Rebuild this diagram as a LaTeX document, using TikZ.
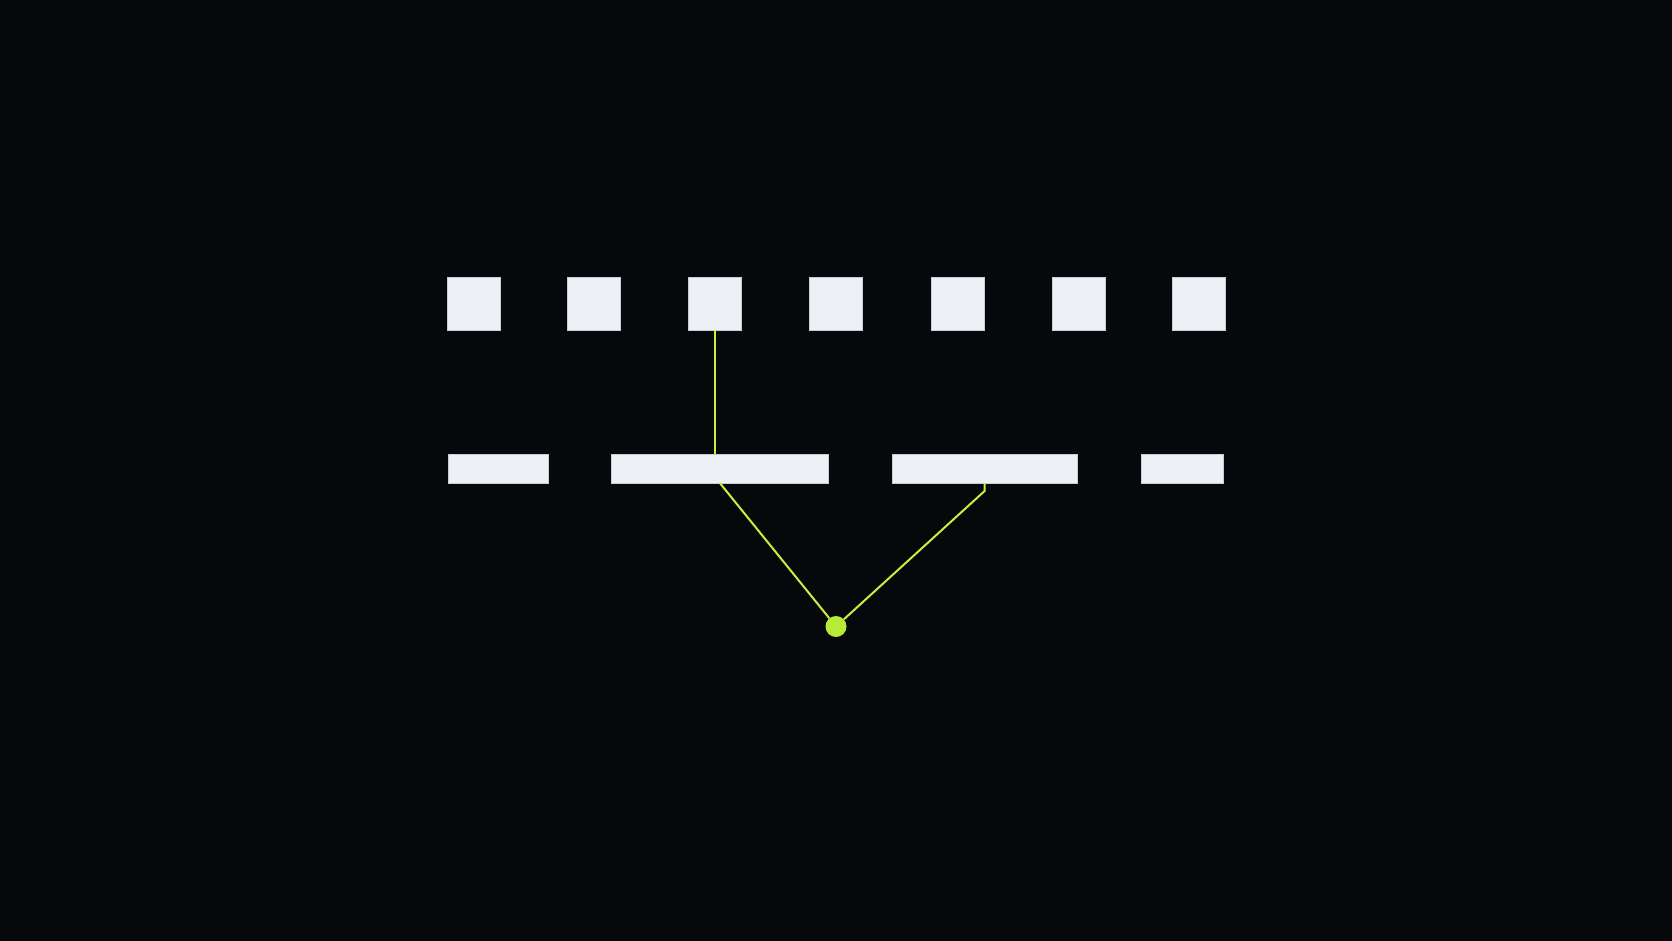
\documentclass[tikz,border=0pt]{standalone}
\begin{document}
\begin{tikzpicture}[x=1pt,y=-1pt,
  box/.style={draw=boxedge,line width=0.8pt,fill=boxfill,inner sep=0pt,outer sep=0pt},
  sq/.style={box,minimum width=53pt,minimum height=53pt},
  bar/.style={box,minimum height=29pt},
  link/.style={draw=lime,line width=2pt},
  dotst/.style={circle,fill=dotc,inner sep=0pt,minimum size=21pt}]
\definecolor{bg}{HTML}{06080B}
\definecolor{boxfill}{HTML}{EEF0F6}
\definecolor{boxedge}{HTML}{C9CCD3}
\definecolor{lime}{HTML}{C8F03C}
\definecolor{dotc}{HTML}{B8EA3A}
\fill[bg] (0,0) rectangle (1672,941);
\useasboundingbox (0,0) rectangle (1672,941);
\foreach \i/\x in {1/473.5,2/594,3/715.2,4/836.3,5/957.5,6/1078.8,7/1199}
  \node[sq] (t\i) at (\x,303.5) {};
\node[bar,minimum width=100pt] (b1) at (498.5,468.5) {};
\node[bar,minimum width=217pt] (b2) at (719.8,468.5) {};
\node[bar,minimum width=185pt] (b3) at (984.6,468.5) {};
\node[bar,minimum width=82pt] (b4) at (1182.2,468.5) {};
\node[dotst] (d) at (836,626.5) {};
\draw[link] (t3.south) -- (t3.south |- b2.north);
\draw[link] (b2.south) -- (d);
\draw[link] (b3.south) -- ++(0,8) -- (d);
\end{tikzpicture}
\end{document}
